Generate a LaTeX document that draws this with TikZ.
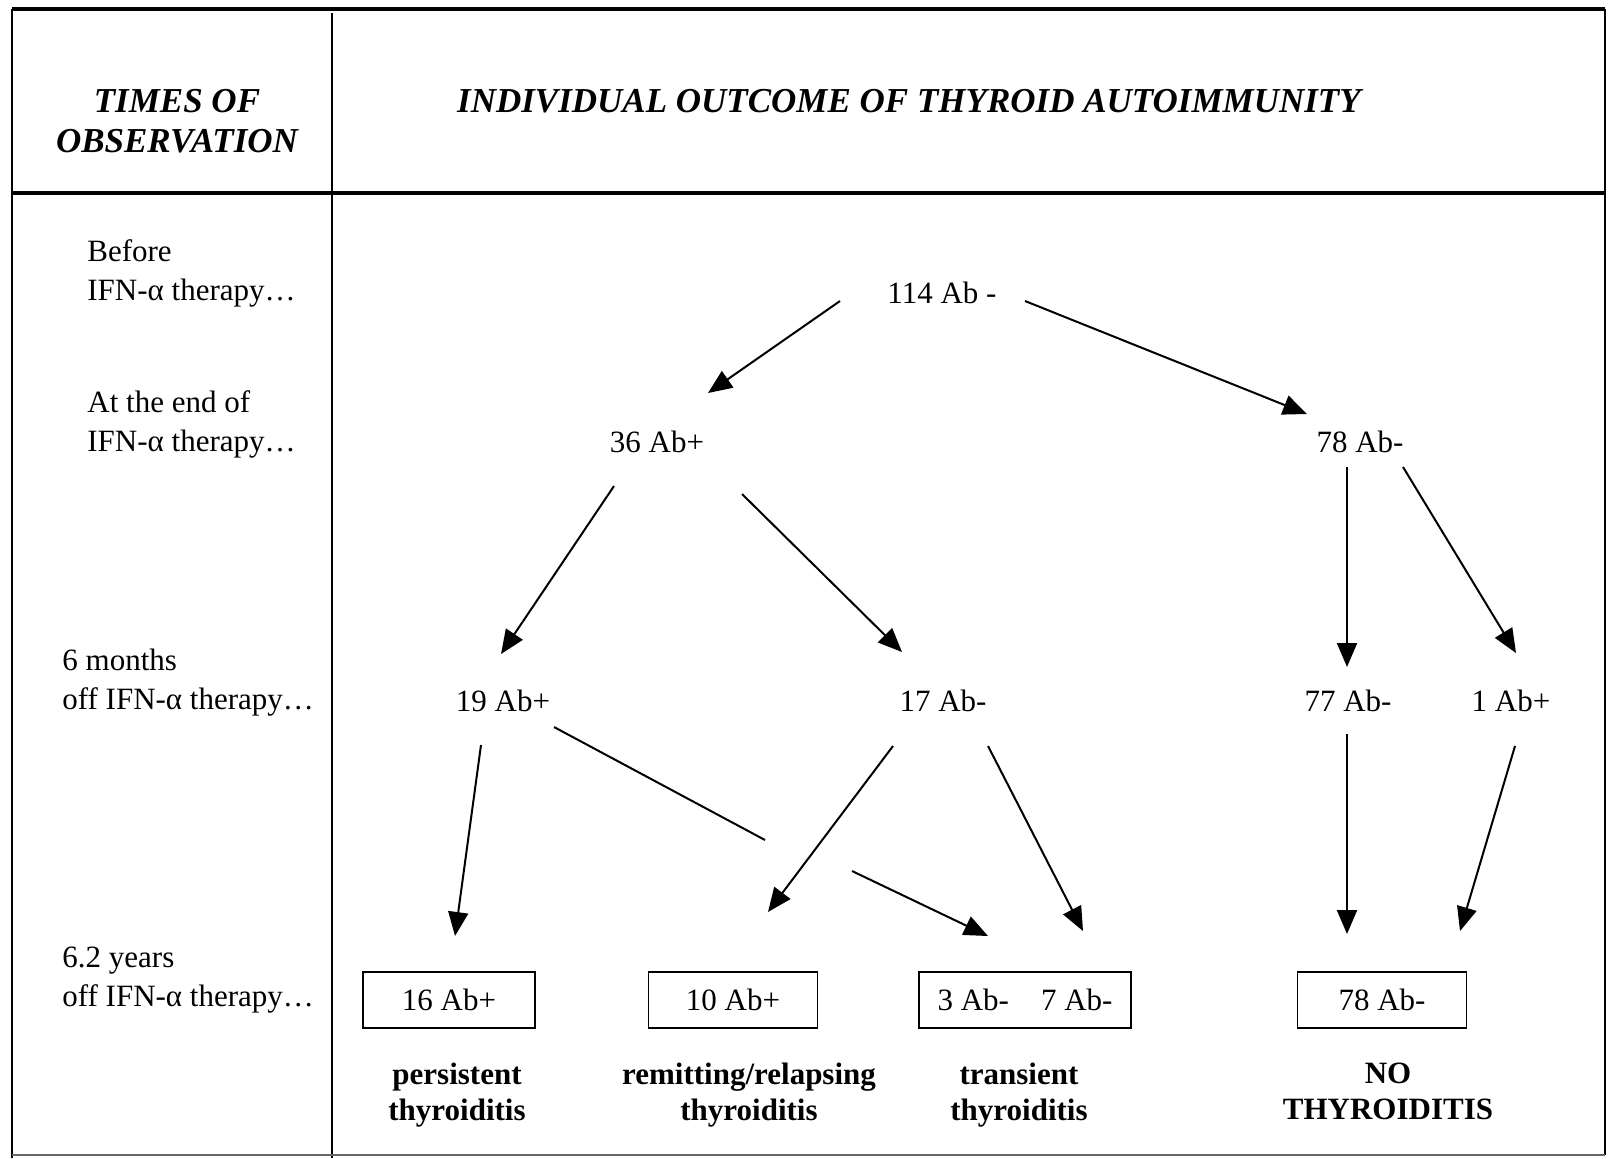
\documentclass[tikz,border=0pt]{standalone}
\usepackage{fontspec}
\setmainfont{Liberation Serif}
\usepackage{tikz}
\usetikzlibrary{arrows.meta, positioning, calc}

\begin{document}
\begin{tikzpicture}[x=0.5pt, y=-0.5pt,
            frame/.style={line width=0.9pt},
            rule/.style={line width=2pt},
            count/.style={font=\fontsize{15.5}{18}\selectfont, inner sep=0pt},
            timestep/.style={font=\fontsize{15.5}{19.5}\selectfont, align=left, anchor=west, inner sep=0pt},
            head/.style={font=\fontsize{17.5}{20}\selectfont\bfseries\itshape, align=center, inner sep=0pt},
            result/.style={draw, line width=0.9pt, minimum height=28pt, font=\fontsize{15.5}{18}\selectfont, inner sep=0pt},
            outcome/.style={font=\fontsize{15.5}{18}\selectfont\bfseries, align=center, inner sep=0pt},
            arr/.style={line width=1pt, -{Triangle[length=12pt, width=10pt]}}
        ]
          \useasboundingbox (0,0) rectangle (1610,1158);

          % table frame
          \draw[rule] (12,9) -- (1605,9);
          \draw[rule] (12,193) -- (1605,193);
          \draw[frame] (12,9) -- (12,1158);
          \draw[frame] (1605,9) -- (1605,1155);
          \draw[frame] (332,13) -- (332,1158);
          \draw[line width=0.6pt, black!60] (12,1155) -- (1605,1155);

          \node[head] (htime) at (177,121) {TIMES OF\\OBSERVATION};
          \node[head] (hout) at (909,101) {INDIVIDUAL OUTCOME OF THYROID AUTOIMMUNITY};

          % times of observation
          \node[timestep] (t0) at (87,273) {Before\\IFN-α therapy…};
          \node[timestep] (t1) at (87,424) {At the end of\\IFN-α therapy…};
          \node[timestep] (t2) at (62,683) {6 months\\off IFN-α therapy…};
          \node[timestep] (t3) at (62,980) {6.2 years\\off IFN-α therapy…};

          % outcome tree
          \node[count] (a114) at (942,293) {114 Ab -};
          \node[count] (a36) at (657,442) {36 Ab+};
          \node[count] (a78) at (1360,442) {78 Ab-};
          \node[count] (a19) at (503,701) {19 Ab+};
          \node[count] (a17) at (943,701) {17 Ab-};
          \node[count] (a77) at (1348,701) {77 Ab-};
          \node[count] (a1) at (1511,701) {1 Ab+};

          \node[result, minimum width=86pt] (b16) at (449,1000) {16 Ab+};
          \node[result, minimum width=84.5pt] (b10) at (733,1000) {10 Ab+};
          \node[result, minimum width=106pt] (b3) at (1025,1000) {3 Ab-\hspace{16pt}7 Ab-};
          \node[result, minimum width=84.5pt] (b78) at (1382,1000) {78 Ab-};

          \node[outcome, below=17pt of b16, xshift=4pt] (o16) {persistent\\thyroiditis};
          \node[outcome, below=17pt of b10, xshift=8pt] (o10) {remitting/relapsing\\thyroiditis};
          \node[outcome, below=17pt of b3, xshift=-3pt] (o3) {transient\\thyroiditis};
          \node[outcome, below=17pt of b78, xshift=3pt] (o78) {NO\\THYROIDITIS};

          \draw[arr] ([shift={(-102,8)}]a114.center) -- ([shift={(51,-49)}]a36.center);
          \draw[arr] ([shift={(83,8)}]a114.center) -- ([shift={(-53,-28)}]a78.center);
          \draw[arr] ([shift={(-43,44)}]a36.center) -- ([shift={(-2,-47)}]a19.center);
          \draw[arr] ([shift={(85,52)}]a36.center) -- ([shift={(-41,-49)}]a17.center);
          \draw[arr] ([shift={(-13,25)}]a78.center) -- ([shift={(-1,-34)}]a77.center);
          \draw[arr] ([shift={(43,25)}]a78.center) -- ([shift={(5,-48)}]a1.center);
          \draw[arr] ([shift={(-22,44)}]a19.center) -- ([shift={(6,-64)}]b16.center);
          \draw[line width=1pt] ([shift={(51,26)}]a19.center) -- ([shift={(-260,-160)}]b3.center);
          \draw[arr] ([shift={(-173,-129)}]b3.center) -- ([shift={(-37,-64)}]b3.center);
          \draw[arr] ([shift={(-50,45)}]a17.center) -- ([shift={(35,-88)}]b10.center);
          \draw[arr] ([shift={(45,45)}]a17.center) -- ([shift={(58,-69)}]b3.center);
          \draw[arr] ([shift={(-1,33)}]a77.center) -- ([shift={(-35,-66)}]b78.center);
          \draw[arr] ([shift={(4,45)}]a1.center) -- ([shift={(78,-69)}]b78.center);
        \end{tikzpicture}
\end{document}
